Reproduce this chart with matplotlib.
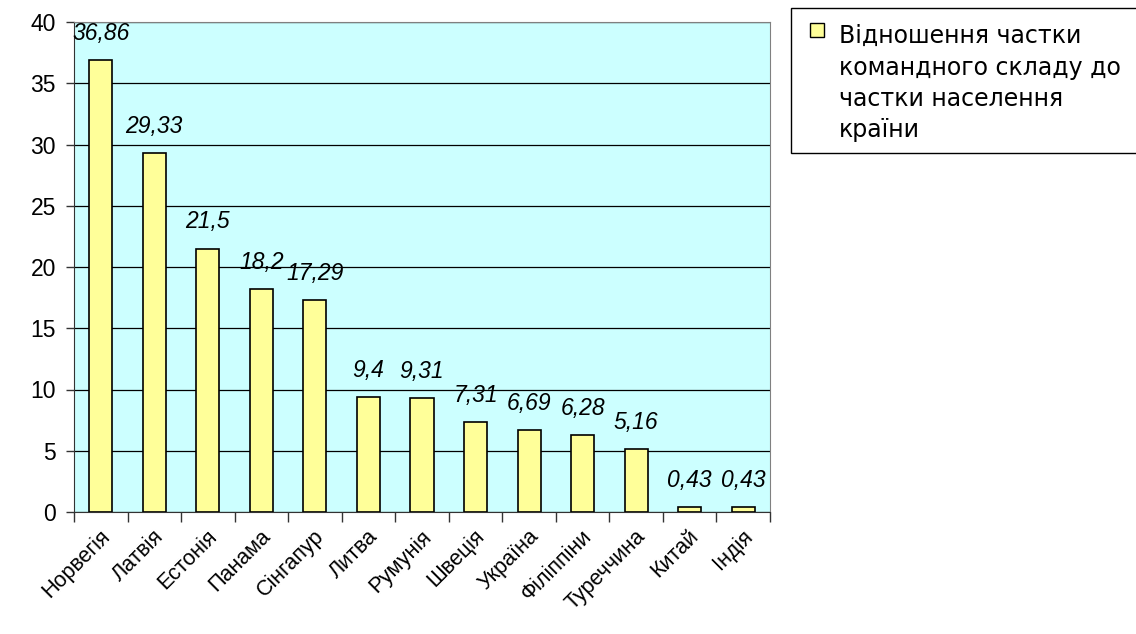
import matplotlib.pyplot as plt
import matplotlib.transforms as mtransforms
import numpy as np
from matplotlib.patches import Rectangle

plt.rcParams['font.family'] = ['Liberation Sans', 'DejaVu Sans']

countries = ['Норвегія', 'Латвія', 'Естонія', 'Панама', 'Сінгапур', 'Литва', 'Румунія',
             'Швеція', 'Україна', 'Філіппіни', 'Туреччина', 'Китай', 'Індія']
values = [36.86, 29.33, 21.5, 18.2, 17.29, 9.4, 9.31, 7.31, 6.69, 6.28, 5.16, 0.43, 0.43]
value_labels = ['36,86', '29,33', '21,5', '18,2', '17,29', '9,4', '9,31',
                '7,31', '6,69', '6,28', '5,16', '0,43', '0,43']
legend_lines = ['Відношення частки', 'командного складу до', 'частки населення', 'країни']

W, H = 1136, 634
fs = 16.5
fig = plt.figure(figsize=(W / 100, H / 100), dpi=100)
ax = fig.add_axes([74 / W, 1 - 512 / H, (770 - 74) / W, (512 - 22) / H])
ax.set_facecolor('#CCFFFF')

x = np.arange(len(countries))
ax.bar(x, values, width=0.43, color='#FFFF99', edgecolor='black', linewidth=1.2, zorder=3)

for xi, v, lab in zip(x, values, value_labels):
    ax.annotate(lab, (xi, v), xytext=(0, 14.5), textcoords='offset points',
                ha='center', va='baseline', fontsize=fs, fontstyle='italic', zorder=4)

ax.set_xlim(-0.5, len(countries) - 0.5)
ax.set_ylim(0, 40)
ax.set_yticks(range(0, 41, 5))
ax.yaxis.grid(True, color='black', linewidth=0.9, zorder=1)
ax.tick_params(axis='y', labelsize=fs, length=6, pad=7, direction='out', width=1,
               color='#333333')

# ticks between categories, labels at category centres
ax.set_xticks(np.arange(-0.5, len(countries), 1.0))
ax.set_xticklabels([])
ax.set_xticks(x, minor=True)
ax.set_xticklabels(countries, minor=True, rotation=45, ha='right', rotation_mode='anchor',
                   fontsize=15.5)
ax.tick_params(axis='x', which='major', length=7, width=1, color='#333333')
ax.tick_params(axis='x', which='minor', length=0, pad=10)
shift = mtransforms.ScaledTranslation(-1 / 72, 0, fig.dpi_scale_trans)
for lbl in ax.xaxis.get_minorticklabels():
    lbl.set_transform(lbl.get_transform() + shift)

ax.spines['top'].set_color('#808080')
ax.spines['right'].set_color('#808080')
ax.spines['left'].set_color('#333333')
ax.spines['bottom'].set_color('#333333')

# legend box, runs off the right edge like the original
fig.patches.append(Rectangle((791 / W, 1 - 153 / H), (W - 791 + 20) / W, 145 / H,
                             transform=fig.transFigure, facecolor='white',
                             edgecolor='black', linewidth=1))
fig.patches.append(Rectangle((810 / W, 1 - 37 / H), 14 / W, 14 / H,
                             transform=fig.transFigure, facecolor='#FFFF99',
                             edgecolor='black', linewidth=1))
for i, line in enumerate(legend_lines):
    fig.text(839 / W, 1 - (43 + 31.5 * i) / H, line, fontsize=17, va='baseline',
             ha='left', family=['DejaVu Sans'])

fig.savefig('out.png', dpi=100)
